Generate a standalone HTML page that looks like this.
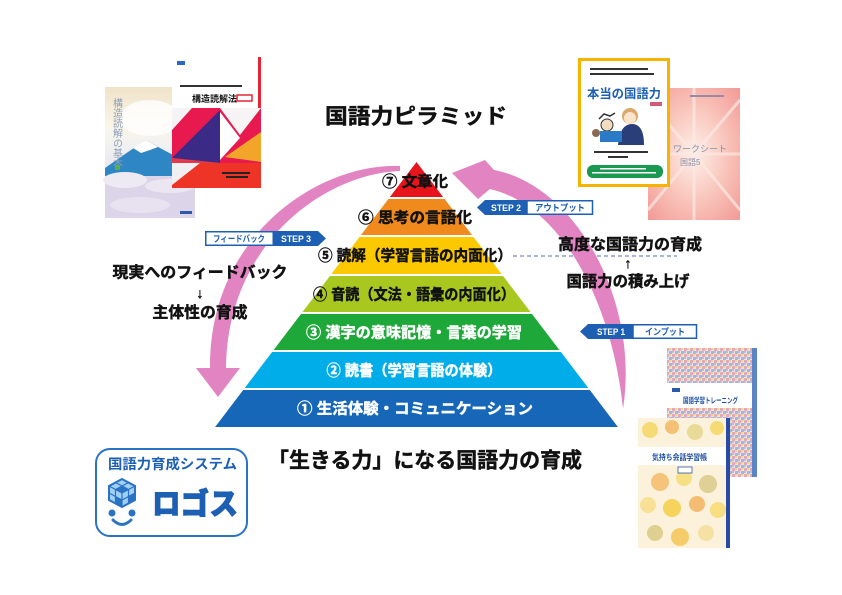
<!DOCTYPE html>
<html><head><meta charset="utf-8">
<style>
html,body{margin:0;padding:0;background:#fff;}
svg{display:block;}
text{font-family:"Liberation Sans","Noto Sans CJK JP",sans-serif;font-weight:bold;}
.hv{stroke-width:0.45px;paint-order:stroke;}
</style></head>
<body>
<svg width="842" height="595" viewBox="0 0 842 595" xmlns="http://www.w3.org/2000/svg">
<defs>
  <linearGradient id="fujiSky" x1="0" y1="0" x2="0" y2="1">
    <stop offset="0" stop-color="#efe3c8"/>
    <stop offset="0.3" stop-color="#fbf6ea"/>
    <stop offset="0.45" stop-color="#f1f1f2"/>
    <stop offset="1" stop-color="#d8cfe6"/>
  </linearGradient>
  <radialGradient id="rays" cx="0.5" cy="0.5" r="0.7">
    <stop offset="0" stop-color="#fdf0ea"/>
    <stop offset="0.5" stop-color="#f9c6bc"/>
    <stop offset="1" stop-color="#f29a96"/>
  </radialGradient>
  <pattern id="mosaic" width="6" height="6" patternUnits="userSpaceOnUse">
    <rect width="6" height="6" fill="#e9e4ea"/>
    <rect x="0" y="0" width="3" height="3" fill="#e6a8b8"/>
    <rect x="3" y="3" width="3" height="3" fill="#9fb8dc"/>
    <rect x="3" y="0" width="2" height="2" fill="#f0d48a"/>
    <rect x="0" y="3" width="2" height="2" fill="#c0c0c8"/>
  </pattern>
</defs>

<!-- ===== Left books ===== -->
<g>
  <rect x="105" y="87" width="90" height="131" fill="url(#fujiSky)"/>
  <ellipse cx="150" cy="118" rx="30" ry="18" fill="#ffffff" opacity="0.8"/>
  <polygon points="105,168 128,152 146,140 160,148 175,156 195,160 195,182 105,182" fill="#2f86c4"/>
  <polygon points="133,148 146,140 158,147 150,150 141,153" fill="#ffffff"/>
  <rect x="105" y="176" width="90" height="42" fill="#dcd4e8"/>
  <ellipse cx="125" cy="180" rx="22" ry="8" fill="#eeeaf4"/>
  <ellipse cx="170" cy="186" rx="25" ry="7" fill="#ece6f2"/>
  <ellipse cx="140" cy="205" rx="30" ry="8" fill="#e8e2f0"/>
  <text x="116" y="98" font-size="10" fill="#8d9fb6" style="writing-mode:tb;font-weight:normal" letter-spacing="0">構造読解の基本</text>
  <rect x="115" y="165" width="5" height="5" fill="#5cae4a"/>
  <rect x="180" y="211" width="12" height="3" fill="#2a5aa8"/>
</g>
<g>
  <rect x="172" y="57" width="89" height="131" fill="#ffffff"/>
  <rect x="258" y="57" width="3" height="131" fill="#e52632"/>
  <rect x="177" y="61" width="8" height="4" fill="#2a6ac0"/>
  <rect x="180" y="85" width="62" height="2" fill="#333"/>
  <text x="192" y="102" font-size="9" fill="#111">構造読解法</text>
  <rect x="237" y="95" width="15" height="6" fill="#fff" stroke="#e52632" stroke-width="1.5"/>
  <rect x="172" y="108" width="89" height="80" fill="#e8194f"/>
  <polygon points="172,108 192,108 172,130" fill="#f4f4f6"/>
  <polygon points="220,110 220,163 172,158" fill="#3b2b86"/>
  <polygon points="220,108 261,108 240,135" fill="#f6f4f4"/>
  <polygon points="220,112 240,138 220,160" fill="#ffffff"/>
  <polygon points="225,157 261,132 261,162" fill="#f3a52a"/>
  <polygon points="172,158 220,163 172,175" fill="#e23a4a"/>
  <rect x="172" y="163" width="89" height="25" fill="#ee3426"/>
  <polygon points="172,163 200,163 172,185" fill="#f0f0f2"/>
  <rect x="222" y="172" width="28" height="2" fill="#222"/>
  <rect x="226" y="176" width="22" height="2" fill="#222"/>
</g>

<!-- ===== Right top books ===== -->
<g>
  <rect x="648" y="88" width="92" height="132" fill="url(#rays)"/>
  <g stroke="#fde9e4" stroke-width="3" opacity="0.7">
    <line x1="694" y1="154" x2="648" y2="100"/>
    <line x1="694" y1="154" x2="740" y2="100"/>
    <line x1="694" y1="154" x2="648" y2="210"/>
    <line x1="694" y1="154" x2="740" y2="210"/>
    <line x1="694" y1="154" x2="694" y2="88"/>
    <line x1="694" y1="154" x2="694" y2="220"/>
    <line x1="694" y1="154" x2="648" y2="154"/>
    <line x1="694" y1="154" x2="740" y2="154"/>
  </g>
  <rect x="690" y="95" width="34" height="2" fill="#9a8aa8"/>
  <text x="673" y="152" font-size="9" fill="#8890a8" style="font-weight:normal">ワークシート</text>
  <text x="680" y="165" font-size="8" fill="#8890a8" style="font-weight:normal">国語5</text>
</g>
<g>
  <rect x="579.5" y="59.5" width="89" height="126" fill="#ffffff" stroke="#f6b400" stroke-width="3"/>
  <rect x="590" y="68" width="58" height="2" fill="#333"/>
  <rect x="590" y="73" width="64" height="2" fill="#333"/>
  <text x="587" y="98" font-size="12.5" fill="#1d5fb3" textLength="74" lengthAdjust="spacingAndGlyphs">本当の国語力</text>
  <rect x="650" y="102" width="12" height="4" fill="#d05a7a"/>
  <circle cx="630" cy="116" r="8" fill="#d9a86a"/>
  <circle cx="630" cy="118" r="6" fill="#fbe4cc"/>
  <path d="M618,145 Q620,124 632,124 Q644,124 644,145 Z" fill="#2a3e7a"/>
  <circle cx="607" cy="125" r="6" fill="#f4dcc0" stroke="#333" stroke-width="1"/>
  <path d="M599,119 L604,114 L610,116 L615,113" stroke="#333" stroke-width="1.5" fill="none"/>
  <rect x="600" y="131" width="22" height="11" fill="#2a7ac8"/>
  <circle cx="596" cy="133" r="4" fill="#8a6a50"/>
  <rect x="594" y="151" width="54" height="2" fill="#333"/>
  <rect x="608" y="156" width="20" height="2" fill="#333"/>
  <rect x="587" y="165" width="76" height="13" rx="6" fill="#1a9a50"/>
  <rect x="600" y="168" width="46" height="1.5" fill="#fff"/>
  <rect x="592" y="172" width="64" height="1.5" fill="#fff"/>
</g>

<!-- ===== Bottom right books ===== -->
<g>
  <rect x="667" y="348" width="90" height="129" fill="url(#mosaic)"/>
  <rect x="752" y="348" width="5" height="129" fill="#5b84c4"/>
  <rect x="667" y="383" width="85" height="25" fill="#ffffff"/>
  <rect x="672" y="388" width="8" height="4" fill="#2a5aa8"/>
  <text x="683" y="403" font-size="7.5" fill="#1d4fa0" textLength="55" lengthAdjust="spacingAndGlyphs">国語学習トレーニング</text>
</g>
<g>
  <rect x="638" y="418" width="92" height="130" fill="#fcf1da"/>
  <g opacity="0.9">
    <circle cx="650" cy="430" r="8" fill="#f6d86a"/>
    <circle cx="672" cy="427" r="7" fill="#f5bc6a"/>
    <circle cx="695" cy="432" r="8" fill="#e6d890"/>
    <circle cx="717" cy="428" r="7" fill="#f6d86a"/>
    <circle cx="660" cy="482" r="9" fill="#f5c070"/>
    <circle cx="684" cy="478" r="8" fill="#f6df7a"/>
    <circle cx="708" cy="484" r="9" fill="#dccd8e"/>
    <circle cx="648" cy="505" r="8" fill="#f8e090"/>
    <circle cx="672" cy="508" r="9" fill="#f6d050"/>
    <circle cx="697" cy="504" r="8" fill="#f5b868"/>
    <circle cx="718" cy="510" r="8" fill="#f6dc78"/>
    <circle cx="655" cy="533" r="8" fill="#dccc88"/>
    <circle cx="680" cy="537" r="9" fill="#f6c860"/>
    <circle cx="706" cy="533" r="8" fill="#f6e0a0"/>
  </g>
  <rect x="726" y="418" width="4" height="130" fill="#2a4aa8"/>
  <rect x="638" y="447" width="88" height="18" fill="#ffffff"/>
  <text x="652" y="460" font-size="8" fill="#1d4fa0" textLength="55" lengthAdjust="spacingAndGlyphs">気持ち会話学習帳</text>
  <rect x="678" y="467" width="14" height="6" fill="#fff" stroke="#2a5aa8" stroke-width="0.8"/>
</g>

<!-- ===== Pyramid ===== -->
<g>
  <polygon points="416.5,162 443.1,197 389.9,197" fill="#e8141c"/>
  <polygon points="388.4,199 444.6,199 472,235 361,235" fill="#f08a1c"/>
  <polygon points="359.5,237 473.5,237 501.6,274 331.4,274" fill="#fcc800"/>
  <polygon points="329.9,276 503.1,276 530.5,312 302.5,312" fill="#a8c820"/>
  <polygon points="301,314 532,314 559.4,350 273.6,350" fill="#1fa83a"/>
  <polygon points="272.1,352 560.9,352 588.3,388 244.7,388" fill="#00ade8"/>
  <polygon points="243.2,390 589.8,390 617.9,427 215.1,427" fill="#1767b9"/>
</g>
<g font-size="15" text-anchor="middle" dominant-baseline="central">
  <text class="hv" stroke="#111" x="415" y="182" fill="#111" textLength="66" lengthAdjust="spacingAndGlyphs">⑦ 文章化</text>
  <text class="hv" stroke="#111" x="415" y="218" fill="#111" textLength="114" lengthAdjust="spacingAndGlyphs">⑥ 思考の言語化</text>
  <text class="hv" stroke="#111" x="415" y="256" fill="#111" textLength="194" lengthAdjust="spacingAndGlyphs">⑤ 読解（学習言語の内面化）</text>
  <text class="hv" stroke="#111" x="414" y="295" fill="#111" textLength="202" lengthAdjust="spacingAndGlyphs">④ 音読（文法・語彙の内面化）</text>
  <text class="hv" stroke="#fff" x="414" y="333" fill="#fff" textLength="216" lengthAdjust="spacingAndGlyphs">③ 漢字の意味記憶・言葉の学習</text>
  <text class="hv" stroke="#fff" x="414" y="371" fill="#fff" textLength="175" lengthAdjust="spacingAndGlyphs">② 読書（学習言語の体験）</text>
  <text class="hv" stroke="#fff" x="415" y="409" fill="#fff" textLength="236" lengthAdjust="spacingAndGlyphs">① 生活体験・コミュニケーション</text>
</g>

<!-- dashed line -->
<line x1="513" y1="256" x2="677" y2="256" stroke="#6a8cc8" stroke-width="1.3" stroke-dasharray="4,3"/>

<!-- ===== Pink arrows ===== -->
<path d="M400,166 C318,163 209,236 210,368 L196,368 L218,397 L240,368 L226,368 C227,246 322,174 400,171 Z" fill="#e384c2"/>
<path d="M623,409 C640,300 575,185 494,170 L485,160 L452,173 L478,199 L490,189 C560,205 612,300 623,409 Z" fill="#e384c2"/>

<!-- ===== STEP tags ===== -->
<g font-size="9">
  <polygon points="477,207.5 485,200 527,200 527,215 485,215" fill="#1d5fb3"/>
  <rect x="527" y="200.75" width="65.5" height="13.5" fill="#fff" stroke="#1d5fb3" stroke-width="1.5"/>
  <text x="506" y="211" fill="#fff" text-anchor="middle" textLength="30" lengthAdjust="spacingAndGlyphs">STEP 2</text>
  <text x="560" y="211" fill="#1d5fb3" text-anchor="middle" textLength="50" lengthAdjust="spacingAndGlyphs">アウトプット</text>
  <rect x="205.75" y="231.75" width="67.5" height="13.5" fill="#fff" stroke="#1d5fb3" stroke-width="1.5"/>
  <polygon points="273,231 318,231 326,238.5 318,246 273,246" fill="#1d5fb3"/>
  <text x="239" y="242" fill="#1d5fb3" text-anchor="middle" textLength="52" lengthAdjust="spacingAndGlyphs">フィードバック</text>
  <text x="296" y="242" fill="#fff" text-anchor="middle" textLength="30" lengthAdjust="spacingAndGlyphs">STEP 3</text>
  <polygon points="580,331.5 588,324 633,324 633,339 588,339" fill="#1d5fb3"/>
  <rect x="633" y="324.75" width="63.5" height="13.5" fill="#fff" stroke="#1d5fb3" stroke-width="1.5"/>
  <text x="611" y="335" fill="#fff" text-anchor="middle" textLength="28" lengthAdjust="spacingAndGlyphs">STEP 1</text>
  <text x="665" y="335" fill="#1d5fb3" text-anchor="middle" textLength="40" lengthAdjust="spacingAndGlyphs">インプット</text>
</g>

<!-- ===== Titles & side texts ===== -->
<g fill="#111" stroke="#111" text-anchor="middle" dominant-baseline="central">
  <text class="hv" x="416" y="117" font-size="21" textLength="182" lengthAdjust="spacingAndGlyphs">国語力ピラミッド</text>
  <text class="hv" x="425" y="461" font-size="21" textLength="314" lengthAdjust="spacingAndGlyphs">「生きる力」になる国語力の育成</text>
  <text class="hv" x="630" y="245" font-size="15.5" textLength="144" lengthAdjust="spacingAndGlyphs">高度な国語力の育成</text>
  <text class="hv" x="628" y="263" font-size="14">↑</text>
  <text class="hv" x="628" y="282" font-size="15.5" textLength="123" lengthAdjust="spacingAndGlyphs">国語力の積み上げ</text>
  <text class="hv" x="200" y="273" font-size="15.5" textLength="175" lengthAdjust="spacingAndGlyphs">現実へのフィードバック</text>
  <text class="hv" x="200" y="293" font-size="14">↓</text>
  <text class="hv" x="200" y="313" font-size="15.5" textLength="95" lengthAdjust="spacingAndGlyphs">主体性の育成</text>
</g>

<!-- ===== Logo ===== -->
<g>
  <rect x="96" y="449" width="151" height="87" rx="14" fill="#fff" stroke="#2a72c4" stroke-width="2"/>
  <text x="172.5" y="464" font-size="14" fill="#1d5fb3" text-anchor="middle" dominant-baseline="central" textLength="129" lengthAdjust="spacingAndGlyphs">国語力育成システム</text>
  <polygon points="122,479 135,486 135,500 122,507 109,500 109,486" fill="#9fd0f2" stroke="#2a72c4" stroke-width="2"/>
  <g stroke="#2a72c4" stroke-width="1.2" fill="none">
    <path d="M109,486 L122,493 L135,486 M122,493 L122,507"/>
    <path d="M115.5,482.5 L128.5,489.5 M128.5,482.5 L115.5,489.5"/>
    <path d="M115.5,489.5 L115.5,503.5 M128.5,489.5 L128.5,503.5"/>
    <path d="M109,493 L122,500 L135,493"/>
  </g>
  <polygon points="122,486 128.5,489.5 122,493 115.5,489.5" fill="#2a72c4"/>
  <polygon points="115.5,496.5 122,500 122,507 115.5,503.5" fill="#2a72c4"/>
  <polygon points="128.5,496.5 135,493 135,500 128.5,503.5" fill="#2a72c4"/>
  <circle cx="112" cy="513" r="3.5" fill="#2a72c4"/>
  <circle cx="132" cy="513" r="3.5" fill="#2a72c4"/>
  <path d="M113,520 Q122,529 131,520" stroke="#2a72c4" stroke-width="3" fill="none" stroke-linecap="round"/>
  <text x="195" y="505" font-size="30" fill="#1d5fb3" stroke="#1d5fb3" stroke-width="1" text-anchor="middle" dominant-baseline="central" textLength="86" lengthAdjust="spacingAndGlyphs" style="font-weight:900">ロゴス</text>
</g>
</svg>
</body></html>
